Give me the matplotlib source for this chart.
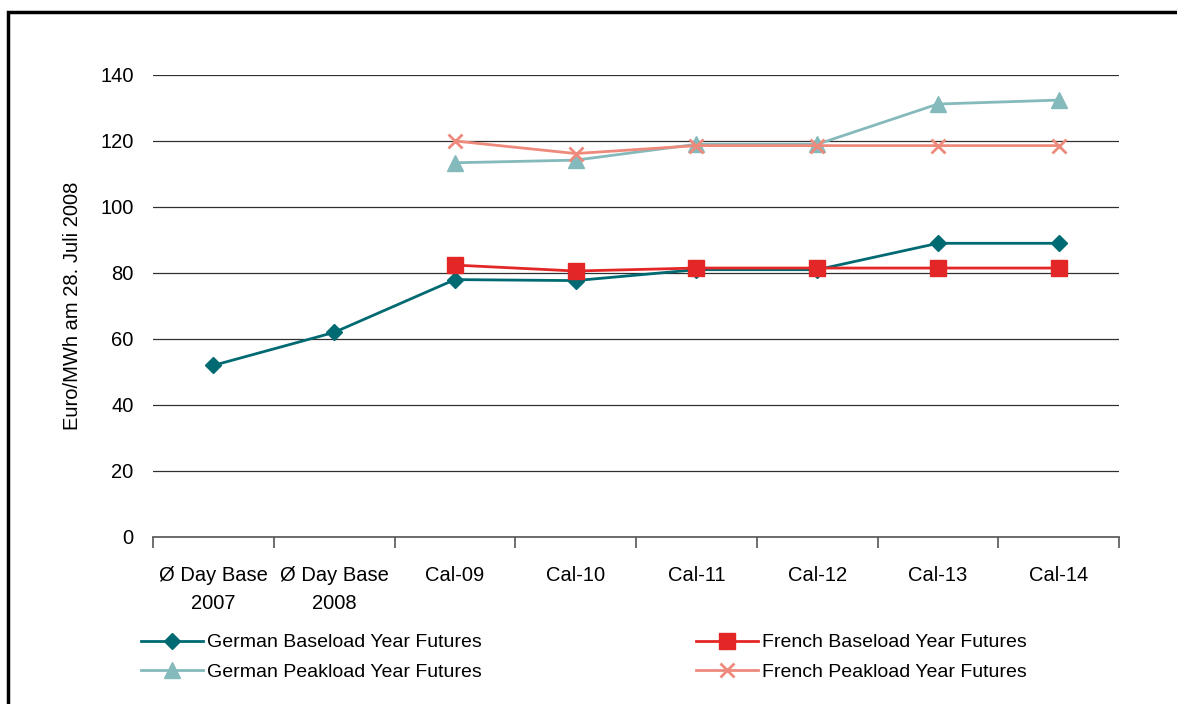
import matplotlib
matplotlib.use("Agg")
import matplotlib.pyplot as plt
from matplotlib.patches import Rectangle
from matplotlib import font_manager
import numpy as np

categories = ["Ø Day Base\n2007", "Ø Day Base\n2008", "Cal-09", "Cal-10",
              "Cal-11", "Cal-12", "Cal-13", "Cal-14"]
german_base = [52, 62, 78, 77.7, 81, 81, 89, 89]
french_base = [None, None, 82.4, 80.6, 81.5, 81.5, 81.5, 81.5]
german_peak = [None, None, 113.4, 114.2, 119, 119, 131.2, 132.4]
french_peak = [None, None, 120, 116.2, 118.6, 118.6, 118.6, 118.6]
yticks = [0, 20, 40, 60, 80, 100, 120, 140]

names = {f.name for f in font_manager.fontManager.ttflist}
fam = "Liberation Sans Narrow" if "Liberation Sans Narrow" in names else "Liberation Sans"
plt.rcParams['font.family'] = [fam, 'DejaVu Sans']

fig = plt.figure(figsize=(11.77, 7.04), dpi=100)
ax = fig.add_axes([153/1177, 1-537/704, (1119-153)/1177, (537-75)/704])

x = np.arange(len(categories))

def arr(v):
    return np.array([np.nan if a is None else a for a in v], dtype=float)

c_gb = "#006A72"
c_gp = "#85BABC"
c_fb = "#E32726"
c_fp = "#EE8A7C"

l_gp, = ax.plot(x, arr(german_peak), color=c_gp, lw=2, marker="^", ms=11,
                label="German Peakload Year Futures", zorder=3)
l_fp, = ax.plot(x, arr(french_peak), color=c_fp, lw=2, marker="x", ms=10, mew=2,
                label="French Peakload Year Futures", zorder=3)
l_gb, = ax.plot(x, arr(german_base), color=c_gb, lw=2, marker="D", ms=8.5,
                label="German Baseload Year Futures", zorder=3)
l_fb, = ax.plot(x, arr(french_base), color=c_fb, lw=2, marker="s", ms=11,
                label="French Baseload Year Futures", zorder=4)

ax.set_xlim(-0.5, len(categories) - 0.5)
ax.set_ylim(0, 140)
ax.set_yticks(yticks)
ax.yaxis.grid(True, color="#303030", lw=0.9)
ax.set_axisbelow(True)
for s in ["top", "right", "left"]:
    ax.spines[s].set_visible(False)
ax.spines["bottom"].set_color("#555555")
ax.spines["bottom"].set_linewidth(1.2)
ax.tick_params(axis="y", length=0, pad=14, labelsize=14.5)
ax.set_xticks(x)
ax.set_xticklabels(categories, fontsize=14.5, linespacing=1.6)
ax.tick_params(axis="x", length=0, pad=21)
ax.set_xticks(np.arange(-0.5, len(categories)), minor=True)
ax.tick_params(axis="x", which="minor", length=8, direction="out", color="#555555", width=1.2)
ax.set_ylabel("Euro/MWh am 28. Juli 2008", fontsize=14.5, labelpad=13)

leg = fig.legend(handles=[l_gb, l_gp, l_fb, l_fp], ncol=2, loc="upper left",
                 bbox_to_anchor=(133/1177, 1-626/704), frameon=False, fontsize=14,
                 handlelength=3.2, handletextpad=0.2, columnspacing=11.0,
                 labelspacing=0.62, borderaxespad=0)

fig.patches.append(Rectangle((8/1177, -0.05), 1.2, 1 - 12/704 + 0.05,
                             transform=fig.transFigure, fill=False,
                             edgecolor="black", lw=2.5))

fig.savefig("out.png", dpi=100)
